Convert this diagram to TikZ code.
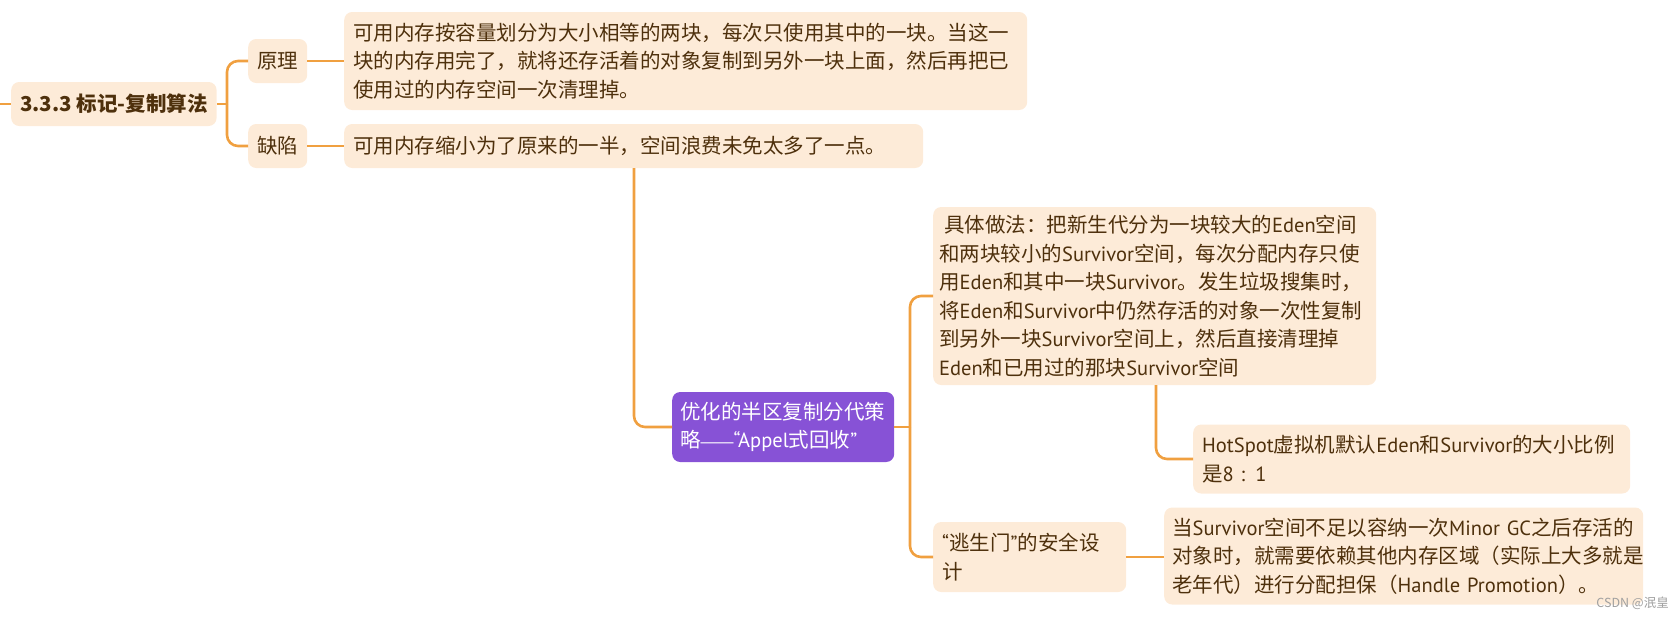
\documentclass[tikz,border=0pt]{standalone}
\usepackage{fontspec}
\setmainfont{Noto Sans CJK SC}
\newfontfamily\latfont{PT Sans}
\newfontfamily\dashfont{Liberation Sans}
\newcommand\lt[1]{{\latfont #1}}
\definecolor{boxfill}{HTML}{FDEBD8}
\definecolor{conncol}{HTML}{F0A040}
\definecolor{txt}{HTML}{4E300C}
\definecolor{purp}{HTML}{8752D6}
\tikzset{
  box/.style={anchor=west, fill=boxfill, draw=none, rounded corners=8pt, inner xsep=9pt, inner ysep=0pt,
    align=left, text=txt, font=\fontsize{20.5}{28.5}\selectfont},
  conn/.style={draw=conncol, line width=2.6pt},
  rc/.style={conn, rounded corners=11pt},
}
\begin{document}
\begin{tikzpicture}[x=1pt,y=-1pt]
\useasboundingbox (0,0) rectangle (1673,619);
% nodes
\node[box, align=center, minimum width=198pt, minimum height=44pt, font=\fontsize{20.5}{28.5}\selectfont\bfseries] (root) at (11,104) {3.3.3 标记-复制算法};
\node[box, align=center, minimum width=57pt, minimum height=44pt] (yl) at (248,61) {原理};
\node[box, align=center, minimum width=57pt, minimum height=44pt] (qx) at (248,146) {缺陷};
\node[box, text width=665pt, minimum height=98pt] (b1) at (344,61) {可用内存按容量划分为大小相等的两块，每次只使用其中的一块。当这一\\块的内存用完了，就将还存活着的对象复制到另外一块上面，然后再把已\\使用过的内存空间一次清理掉。};
\node[box, text width=561pt, minimum height=44pt] (b2) at (344,146) {可用内存缩小为了原来的一半，空间浪费未免太多了一点。};
\node[box, fill=purp, text=white, text width=206pt, inner xsep=8pt, minimum height=70pt] (pp) at (672,427) {优化的半区复制分代策\\略{\dashfont\fontsize{16.5}{28.5}\selectfont ——}\lt{“Appel}式回收\lt{”}};
\node[box, text width=431pt, inner xsep=6pt, minimum height=178pt] (b3) at (933,296) {\hspace{5pt}具体做法：把新生代分为一块较大的\lt{Eden}空间\\和两块较小的\lt{Survivor}空间，每次分配内存只使\\用\lt{Eden}和其中一块\lt{Survivor}。发生垃圾搜集时，\\将\lt{Eden}和\lt{Survivor}中仍然存活的对象一次性复制\\到另外一块\lt{Survivor}空间上，然后直接清理掉\\\lt{Eden}和已用过的那块\lt{Survivor}空间};
\node[box, text width=419pt, minimum height=69pt] (hot) at (1193,459) {\lt{HotSpot}虚拟机默认\lt{Eden}和\lt{Survivor}的大小比例\\是\lt{8 : 1}};
\node[box, text width=175pt, minimum height=70pt] (esc) at (933,557) {\lt{“}逃生门\lt{”}的安全设\\计};
\node[box, text width=463pt, inner xsep=8pt, minimum height=97pt] (last) at (1164,556) {当\lt{Survivor}空间不足以容纳一次\lt{Minor~GC}之后存活的\\对象时，就需要依赖其他内存区域（实际上大多就是\\老年代）进行分配担保（\lt{Handle Promotion}）。};
\node[anchor=east, text=gray!75, inner sep=0pt, font=\fontsize{12.5}{14}\selectfont] (wm) at (1669,603) {CSDN @泯皇};
% coordinates
\coordinate (tail) at (0,104);
\coordinate (k1) at (227,0);
\coordinate (k2) at (634,0);
\coordinate (k3) at (910,0);
\coordinate (k4) at (1156,0);
% connectors
\draw[conn] (tail) -- (root.west);
\draw[conn] (root.east) -- (root.east -| k1);
\draw[rc] (root.east -| k1) |- (yl.west);
\draw[rc] (root.east -| k1) |- (qx.west);
\draw[conn] (yl.east) -- (yl.east -| b1.west);
\draw[conn] (qx.east) -- (qx.east -| b2.west);
\draw[rc] (b2.south -| k2) |- (pp.west);
\draw[conn] (pp.east) -- (pp.east -| k3);
\draw[rc] (pp.east -| k3) |- (b3.west);
\draw[rc] (pp.east -| k3) |- (esc.west);
\draw[rc] (b3.south -| k4) |- (hot.west);
\draw[conn] (esc.east) -- (esc.east -| last.west);
\end{tikzpicture}
\end{document}
